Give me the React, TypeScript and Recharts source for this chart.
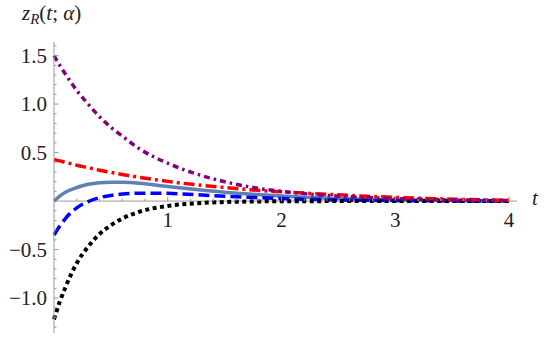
import React from 'react';
import { LineChart, Line, XAxis, YAxis, ReferenceLine } from 'recharts';

// time samples
const tValues = [0, 0.05, 0.1, 0.2, 0.3, 0.4, 0.5, 0.6, 0.75, 1, 1.25, 1.5, 1.75, 2, 2.25, 2.5, 2.75, 3, 3.25, 3.5, 3.75, 4];

// z_R(t; alpha), one list per curve
const purpleVals = [1.5, 1.4, 1.31, 1.14, 1.0, 0.87, 0.76, 0.67, 0.54, 0.39, 0.28, 0.2, 0.14, 0.1, 0.072, 0.051, 0.036, 0.026, 0.018, 0.013, 0.009, 0.007];
const redVals = [0.43, 0.414, 0.4, 0.37, 0.344, 0.318, 0.296, 0.274, 0.245, 0.203, 0.168, 0.14, 0.115, 0.096, 0.079, 0.064, 0.05, 0.038, 0.028, 0.02, 0.013, 0.008];
const solidVals = [0, 0.05, 0.09, 0.14, 0.173, 0.19, 0.195, 0.193, 0.183, 0.15, 0.12, 0.092, 0.07, 0.052, 0.038, 0.027, 0.019, 0.013, 0.009, 0.006, 0.004, 0.003];
const blueVals = [-0.35, -0.26, -0.18, -0.07, -0.005, 0.035, 0.058, 0.072, 0.082, 0.08, 0.066, 0.05, 0.037, 0.026, 0.018, 0.012, 0.008, 0.005, 0.003, 0.002, 0.001, 0.001];
const blackVals = [-1.22, -1.04, -0.89, -0.64, -0.47, -0.34, -0.25, -0.18, -0.11, -0.05, -0.022, -0.01, -0.004, -0.002, -0.001, 0, 0, 0, 0, 0, 0, 0];

const xMajor = [1, 2, 3, 4];
const xMinor = [0.2, 0.4, 0.6, 0.8, 1.2, 1.4, 1.6, 1.8, 2.2, 2.4, 2.6, 2.8, 3.2, 3.4, 3.6, 3.8];
const yMajor = [-1.0, -0.5, 0.5, 1.0, 1.5];
const yMinor = [-1.3, -1.2, -1.1, -0.9, -0.8, -0.7, -0.6, -0.4, -0.3, -0.2, -0.1, 0.1, 0.2, 0.3, 0.4, 0.6, 0.7, 0.8, 0.9, 1.1, 1.2, 1.3, 1.4, 1.6];

const data = tValues.map((t, i) => ({
  t,
  purple: purpleVals[i],
  red: redVals[i],
  solid: solidVals[i],
  blue: blueVals[i],
  black: blackVals[i],
}));

const W = 550;
const H = 339;
const margin = { top: 42, right: 33, bottom: 0, left: 0 };
const xAxisH = 6;
const yAxisW = 54;
const yDomain = [-1.36, 1.64];
const xDomain = [0, 4.07];
const plotH = H - margin.top - margin.bottom - xAxisH;
const zeroY = margin.top + (plotH * yDomain[1]) / (yDomain[1] - yDomain[0]);
const plotLeft = margin.left + yAxisW;
const font = 'Liberation Serif, Tinos, Times New Roman, Times, DejaVu Serif, serif';
const axisGray = '#9a9a9a';

const fmtY = (v: number) => (v < 0 ? '\u2212' + Math.abs(v).toFixed(1) : v.toFixed(1));

function XTick(props: any) {
  const { x, payload } = props;
  const major = xMajor.includes(payload.value);
  return (
    <g>
      <line x1={x} x2={x} y1={zeroY} y2={zeroY - (major ? 4.5 : 2.5)} stroke={axisGray} />
      {major && (
        <text x={x} y={zeroY + 26} textAnchor="middle" fontFamily={font} fontSize={21} fill="#222">
          {payload.value}
        </text>
      )}
    </g>
  );
}

function YTick(props: any) {
  const { y, payload } = props;
  const major = yMajor.some((m) => Math.abs(m - payload.value) < 1e-6);
  return (
    <g>
      <line x1={plotLeft} x2={plotLeft + (major ? 4.5 : 2.5)} y1={y} y2={y} stroke={axisGray} />
      {major && (
        <text x={plotLeft - 7} y={y + 7} textAnchor="end" fontFamily={font} fontSize={21} fill="#222">
          {fmtY(payload.value)}
        </text>
      )}
    </g>
  );
}

export default function App() {
  return (
    <div style={{ position: 'absolute', left: 0, top: 0, width: W, height: H, background: '#fff', fontFamily: font }}>
      <LineChart width={W} height={H} data={data} margin={margin}>
        <XAxis
          dataKey="t"
          type="number"
          domain={xDomain}
          ticks={[...xMinor, ...xMajor].sort((a, b) => a - b)}
          axisLine={false}
          tickLine={false}
          height={xAxisH}
          tick={<XTick />}
          interval={0}
        />
        <YAxis
          type="number"
          domain={yDomain}
          ticks={[...yMinor, ...yMajor].sort((a, b) => a - b)}
          width={yAxisW}
          axisLine={{ stroke: axisGray }}
          tickLine={false}
          tick={<YTick />}
          interval={0}
          allowDataOverflow
        />
        <ReferenceLine y={0} stroke={axisGray} />
        <Line type="monotone" dataKey="solid" stroke="#5e81b5" strokeWidth={3.5} dot={false} isAnimationActive={false} />
        <Line type="monotone" dataKey="blue" stroke="#0000ff" strokeWidth={3.5} strokeDasharray="11 5" dot={false} isAnimationActive={false} />
        <Line type="monotone" dataKey="black" stroke="#000000" strokeWidth={4} strokeDasharray="4 3.5" dot={false} isAnimationActive={false} />
        <Line type="monotone" dataKey="red" stroke="#ff0000" strokeWidth={3.5} strokeDasharray="11 4 3 4" dot={false} isAnimationActive={false} />
        <Line type="monotone" dataKey="purple" stroke="#800080" strokeWidth={3.5} strokeDasharray="6 4 2.5 4" dot={false} isAnimationActive={false} />
      </LineChart>
      <div style={{ position: 'absolute', left: 22, top: 1, fontSize: 21, color: '#222', whiteSpace: 'nowrap' }}>
        <i>z</i>
        <sub style={{ fontSize: 15, fontStyle: 'italic', verticalAlign: -4 }}>R</sub>(<i>t</i>; <i>α</i>)
      </div>
      <div style={{ position: 'absolute', left: 532, top: 186, fontSize: 21, fontStyle: 'italic', color: '#222' }}>
        t
      </div>
    </div>
  );
}
